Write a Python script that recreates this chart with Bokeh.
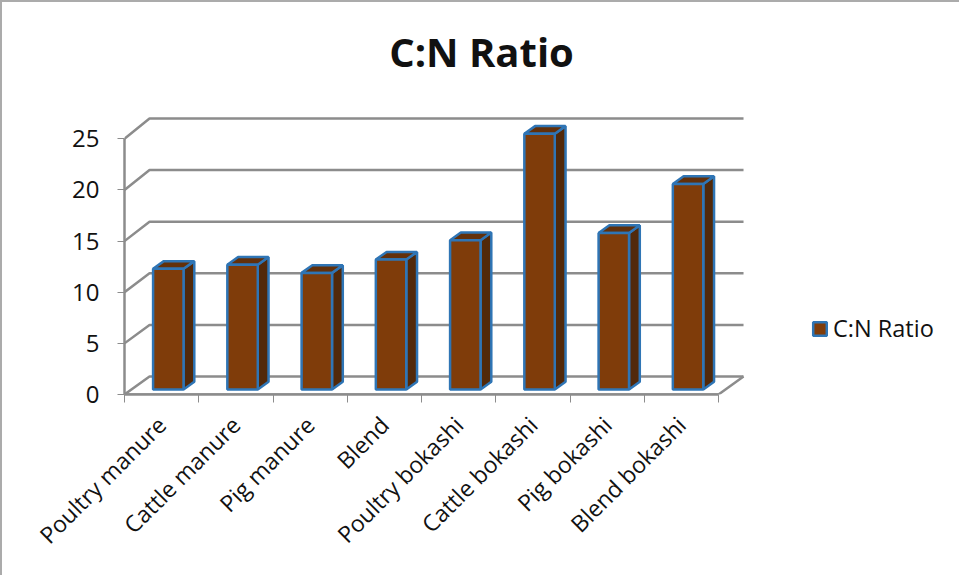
from bokeh.embed import file_html
from bokeh.models import ColumnDataSource, FixedTicker, Label, Legend, LegendItem, Range1d
from bokeh.plotting import figure
from bokeh.resources import INLINE
import math

categories = ["Poultry manure", "Cattle manure", "Pig manure", "Blend",
              "Poultry bokashi", "Cattle bokashi", "Pig bokashi", "Blend bokashi"]
cn_ratio = [11.8, 12.2, 11.4, 12.7, 14.6, 25.0, 15.3, 20.1]
y_ticks = [0, 5, 10, 15, 20, 25]

FONT = "Open Sans"
GRID = "#8c8c8c"
EDGE = "#2f75b5"
FRONT = "#7f3c0a"
SIDE = "#52290a"
TOP = "#63300a"

# Oblique projection of the chart box, in axis units
WALL_DX, WALL_DY = 0.337, 1.76
WALL_STRETCH = 1.009
BAR_LEFT, BAR_RIGHT = 0.385, 0.795
BAR_BASE = 0.49
BAR_DX, BAR_DY = 0.145, 0.75
SLOT_PX = 74.25
UNIT_PER_PX = (25 * WALL_STRETCH + WALL_DY) / 276

n = len(categories)
# The frame fills the page to the top and right, leaving room for the title and legend
p = figure(width=959, height=575, output_backend="svg", toolbar_location=None,
           x_range=Range1d(0, 835 / SLOT_PX), y_range=Range1d(0, 394 * UNIT_PER_PX),
           min_border_left=124, min_border_right=0, min_border_top=0, min_border_bottom=181)
p.outline_line_color = None
p.grid.visible = False
p.background_fill_color = None
p.border_fill_color = None
p.styles = {"box-shadow": "inset 2px 2px 0 #ababab"}

# Floor and back-wall rules, each with its diagonal return to the front plane
p.multi_line(
    xs=[[0, WALL_DX, n + WALL_DX] for _ in y_ticks],
    ys=[[v, v * WALL_STRETCH + WALL_DY, v * WALL_STRETCH + WALL_DY] for v in y_ticks],
    line_color=GRID, line_width=2.5)
p.line([0, n, n + WALL_DX], [0, 0, WALL_DY], line_color=GRID, line_width=2.5)

# Three visible faces of every column
lefts = [i + BAR_LEFT for i in range(n)]
rights = [i + BAR_RIGHT for i in range(n)]
tops = [BAR_BASE + v for v in cn_ratio]
bottoms = [BAR_BASE] * n

p.patches(
    xs=[[r, r + BAR_DX, r + BAR_DX, r] for r in rights],
    ys=[[b, b + BAR_DY, t + BAR_DY, t] for b, t in zip(bottoms, tops)],
    fill_color=SIDE, line_color=EDGE, line_width=2.5)
p.patches(
    xs=[[l, r, r + BAR_DX, l + BAR_DX] for l, r in zip(lefts, rights)],
    ys=[[t, t, t + BAR_DY, t + BAR_DY] for t in tops],
    fill_color=TOP, line_color=EDGE, line_width=2.5)
front = p.quad(
    source=ColumnDataSource(dict(left=lefts, right=rights, top=tops, bottom=bottoms)),
    left="left", right="right", top="top", bottom="bottom",
    fill_color=FRONT, line_color=EDGE, line_width=2.5)

# Axes
yax = p.yaxis[0]
yax.ticker = FixedTicker(ticks=y_ticks)
yax.bounds = (0, 25)
yax.minor_tick_line_color = None
yax.major_tick_in = 0
yax.major_tick_out = 7
yax.major_tick_line_color = GRID
yax.major_tick_line_width = 1
yax.axis_line_color = GRID
yax.axis_line_width = 2.5
yax.major_label_text_font = FONT
yax.major_label_text_font_size = "24px"
yax.major_label_text_color = "#111111"
yax.major_label_standoff = 18

xax = p.xaxis[0]
xax.ticker = FixedTicker(ticks=[i + 0.5 for i in range(n)], minor_ticks=list(range(n + 1)))
xax.major_label_overrides = {i + 0.5: c for i, c in enumerate(categories)}
xax.bounds = (0, n)
xax.major_label_orientation = math.pi / 4
xax.major_tick_line_color = None
xax.minor_tick_line_color = GRID
xax.minor_tick_in = 0
xax.minor_tick_out = 8
xax.axis_line_color = GRID
xax.axis_line_width = 2.5
xax.major_label_text_font = FONT
xax.major_label_text_font_size = "23px"
xax.major_label_text_color = "#111111"
xax.major_label_standoff = 18

# Chart title, centred over the plot and legend together
p.add_layout(Label(x=357 / SLOT_PX, y=343 * UNIT_PER_PX, text="C:N Ratio",
                   text_align="center", text_baseline="alphabetic",
                   text_font=FONT, text_font_size="40px", text_font_style="bold",
                   text_color="#111111"))

legend = Legend(items=[LegendItem(label="C:N Ratio", renderers=[front])],
                location=(687, 50), background_fill_alpha=0, border_line_color=None,
                glyph_width=17, glyph_height=17, label_text_font=FONT,
                label_text_font_size="23.5px", label_text_color="#111111",
                margin=0, padding=0, label_standoff=5)
p.add_layout(legend, "center")

open("out.html", "w").write(file_html(p, INLINE))
